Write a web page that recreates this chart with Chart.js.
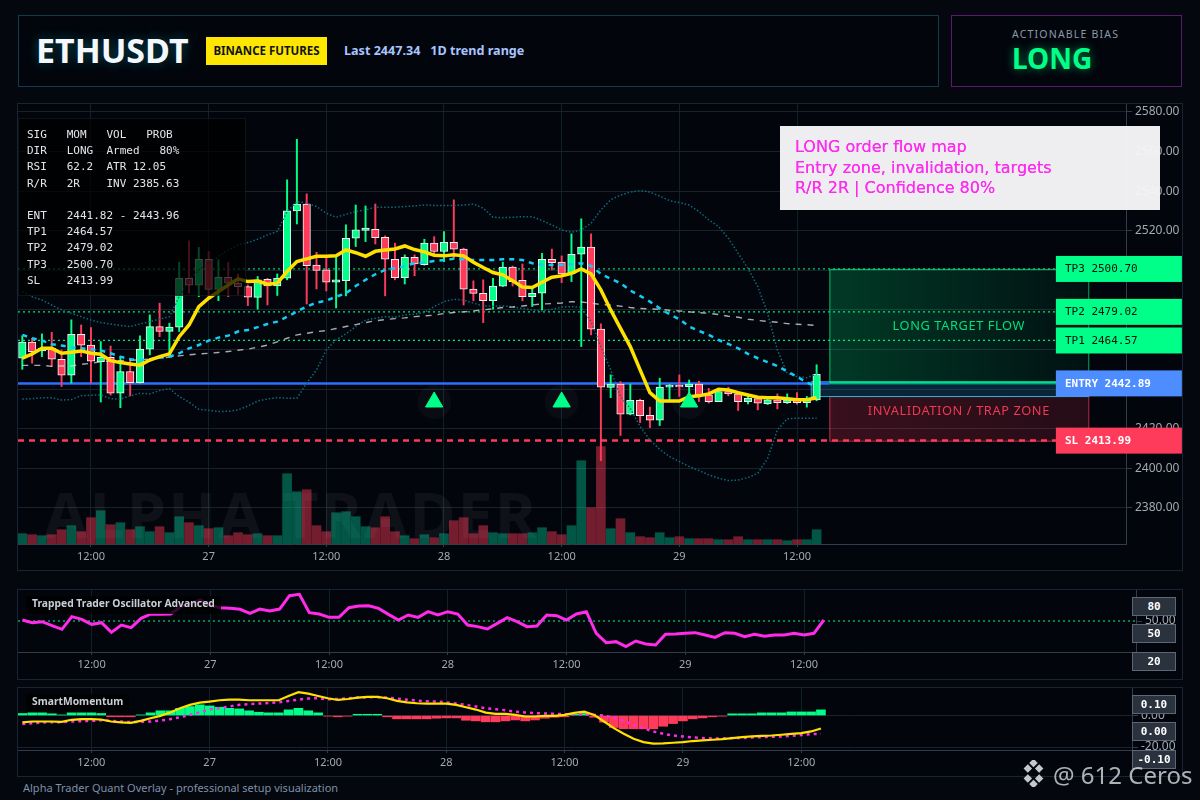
<!DOCTYPE html>
<html>
<head>
<meta charset="utf-8">
<title>ETHUSDT</title>
<script src="https://cdn.jsdelivr.net/npm/chart.js@4/dist/chart.umd.min.js"></script>
<style>
  * { box-sizing: border-box; }
  html, body { margin: 0; padding: 0; background: #05080f; }
  #page { position: relative; width: 1200px; height: 800px; overflow: hidden; background: #04070d; font-family: "Noto Sans", sans-serif; }
  .box { position: absolute; background: #02050c; }
  canvas { position: absolute; }
  .abs { position: absolute; white-space: pre; }
  .badge { position: absolute; left: 1132px; width: 44px; height: 19px; background: #2a323e; border: 1px solid #5c6674; color: #fff; font: bold 11px "DejaVu Sans Mono", monospace; text-align: center; line-height: 17px; }
  .paneTitle { position: absolute; left: 26px; padding: 0 6px; height: 18px; line-height: 18px; background: rgba(0,0,0,.8); color: #c9ced6; font: bold 10.3px "Noto Sans", sans-serif; white-space: pre; }
</style>
</head>
<body>
<div id="page">
  <div class="box" style="left:18px;top:15px;width:921px;height:72px;border:1px solid #0f3c4a"></div>
  <div class="box" style="left:951px;top:15px;width:231px;height:72px;border:1px solid #5a1a70"></div>
  <div class="abs" style="left:36px;top:27px;font:bold 34px 'Noto Sans';color:#f4f7fb;text-shadow:0 0 12px rgba(0,200,220,.35)">ETHUSDT</div>
  <div class="abs" style="left:206px;top:37px;width:121px;height:28px;background:#ffe600;color:#10131a;font:bold 11.5px 'Noto Sans';text-align:center;line-height:28px">BINANCE FUTURES</div>
  <div class="abs" style="left:344px;top:42px;font:bold 12.6px 'Noto Sans';color:#a8c4ff">Last 2447.34   1D trend range</div>
  <div class="abs" style="left:1012px;top:27px;font:10.5px 'Noto Sans';letter-spacing:1.2px;color:#8a99a8">ACTIONABLE BIAS</div>
  <div class="abs" style="left:1012px;top:39px;font:bold 28px 'Noto Sans';color:#00ff88;text-shadow:0 0 10px rgba(0,255,136,.5)">LONG</div>

  <div class="box" style="left:17px;top:103px;width:1166px;height:468px;border:1px solid #182433"></div>
  <div class="box" style="left:17px;top:589px;width:1166px;height:91px;border:1px solid #182433"></div>
  <div class="box" style="left:17px;top:687px;width:1166px;height:90px;border:1px solid #182433"></div>

  <canvas id="mainChart" width="1165" height="467" style="left:17px;top:103px"></canvas>
  <canvas id="oscChart" width="1165" height="90" style="left:17px;top:589px"></canvas>
  <canvas id="momChart" width="1165" height="89" style="left:17px;top:687px"></canvas>

  <pre class="abs" style="margin:0;left:18px;top:118px;width:228px;height:178px;padding:8px 8px;background:rgba(0,0,0,.72);border:1px solid rgba(60,70,80,.25);color:#e2e6ea;font:11px/16.2px 'DejaVu Sans Mono',monospace">SIG   MOM   VOL   PROB
DIR   LONG  Armed   80%
RSI   62.2  ATR 12.05
R/R   2R    INV 2385.63

ENT   2441.82 - 2443.96
TP1   2464.57
TP2   2479.02
TP3   2500.70
SL    2413.99</pre>

  <div class="abs" style="left:780px;top:126px;width:380px;height:84px;padding:11px 15px;background:rgba(246,246,248,.97);color:#ff2bf0;font:16px/20.5px 'DejaVu Sans';text-shadow:0 0 .5px #ff2bf0">LONG order flow map
Entry zone, invalidation, targets
R/R 2R | Confidence 80%</div>

  <div class="paneTitle" style="top:596px">Trapped Trader Oscillator Advanced</div>
  <div class="paneTitle" style="top:694px">SmartMomentum</div>
  <div class="badge" style="top:597px">80</div>
  <div class="badge" style="top:624px">50</div>
  <div class="badge" style="top:652px">20</div>
  <div class="badge" style="top:695px">0.10</div>
  <div class="badge" style="top:722px">0.00</div>
  <div class="badge" style="top:750px">-0.10</div>

  <div class="abs" style="left:23px;top:780px;font:11px 'Noto Sans';color:#7d90a8">Alpha Trader Quant Overlay - professional setup visualization</div>

  <svg class="abs" style="left:1020px;top:760px" width="27" height="27" viewBox="0 0 27 27">
    <g fill="#c4c8cc" transform="rotate(45 13.5 13.5)">
      <rect x="3" y="3" width="6" height="6"/><rect x="11" y="3" width="6" height="6"/>
      <rect x="3" y="11" width="6" height="6"/><rect x="18" y="18" width="6" height="6"/>
      <rect x="18" y="10" width="6" height="6"/><rect x="10" y="18" width="6" height="6"/>
    </g>
  </svg>
  <div class="abs" style="left:1053px;top:758px;font:24px 'Noto Sans';color:rgba(205,208,212,.85)">@ 612 Ceros</div>
</div>

<script>
// one candle per hour, index 0 = 26th 05:00
const opens = [
  2455.6,2463.7,2459.3,2460.6,2455.1,2447.0,2467.7,2462.2,2453.9,2456.1,
  2437.9,2448.9,2443.3,2460.2,2471.6,2469.2,2471.3,2496.0,2492.5,2505.6,
  2490.4,2496.5,2493.5,2491.8,2486.3,2495.5,2492.1,2496.0,2530.0,2533.5,
  2502.7,2500.2,2494.0,2494.8,2516.2,2520.1,2520.7,2516.7,2505.6,2496.3,
  2506.6,2502.9,2513.7,2509.5,2514.2,2510.7,2490.5,2488.4,2484.7,2492.0,
  2501.6,2495.0,2486.7,2488.4,2505.6,2504.1,2498.2,2508.1,2511.7,2470.3,
  2440.8,2442.5,2427.3,2434.4,2426.8,2424.3,2441.0,2442.0,2441.3,2442.6,
  2437.1,2433.7,2438.8,2437.6,2433.7,2435.2,2432.7,2434.6,2433.2,2434.6,
  2433.2,2434.6];
const closes = [
  2463.7,2458.9,2460.6,2455.1,2447.0,2467.7,2462.2,2454.1,2456.1,2437.9,
  2448.9,2443.3,2460.2,2471.6,2469.1,2471.3,2496.0,2492.5,2505.6,2490.4,
  2496.5,2493.5,2491.8,2486.4,2495.2,2492.1,2496.0,2530.0,2533.4,2502.4,
  2499.9,2494.0,2495.2,2516.2,2520.4,2521.3,2516.5,2505.6,2496.3,2506.6,
  2503.2,2513.7,2509.5,2514.2,2510.7,2490.5,2488.3,2484.7,2492.0,2501.6,
  2494.3,2486.7,2488.4,2505.6,2503.9,2498.2,2508.1,2511.7,2470.3,2441.0,
  2442.5,2427.3,2434.4,2426.6,2424.3,2441.0,2442.0,2441.1,2442.6,2437.1,
  2433.7,2438.8,2437.6,2433.7,2435.4,2432.9,2434.6,2433.2,2434.6,2433.2,
  2435.4,2447.5];
const highs = [
  2466.9,2465.7,2467.9,2468.7,2459.8,2475.0,2472.4,2471.1,2464.0,2461.8,
  2456.4,2455.6,2466.9,2477.5,2483.4,2473.3,2504.1,2514.9,2511.6,2509.5,
  2505.3,2504.1,2498.2,2492.6,2496.9,2496.0,2498.2,2545.7,2566.2,2538.6,
  2509.1,2507.0,2507.3,2523.0,2533.0,2532.5,2533.5,2517.4,2513.7,2507.8,
  2507.8,2515.7,2517.0,2519.6,2535.6,2511.2,2494.7,2495.2,2496.0,2504.1,
  2502.2,2503.2,2491.0,2508.6,2510.7,2507.3,2518.4,2526.0,2518.4,2473.0,
  2447.2,2443.8,2442.6,2434.9,2430.9,2445.5,2442.5,2447.2,2444.6,2444.0,
  2440.4,2439.6,2441.0,2438.8,2436.3,2436.3,2435.0,2437.6,2437.6,2438.3,
  2436.3,2452.3];
const lows = [
  2450.0,2453.1,2456.4,2451.4,2441.3,2443.0,2456.4,2443.0,2433.5,2437.0,
  2430.6,2436.6,2443.0,2457.3,2466.5,2456.4,2469.1,2488.4,2486.7,2486.7,
  2484.7,2486.7,2487.6,2482.2,2480.4,2482.5,2487.3,2495.2,2523.4,2483.0,
  2490.6,2489.6,2481.0,2487.1,2512.0,2514.5,2513.3,2487.1,2495.2,2493.1,
  2497.2,2502.6,2507.8,2504.4,2506.1,2482.5,2484.6,2473.6,2480.4,2491.8,
  2492.1,2484.6,2481.7,2480.0,2500.2,2493.8,2494.3,2461.5,2467.4,2403.9,
  2435.7,2416.6,2427.0,2423.1,2420.6,2421.6,2434.6,2436.3,2434.6,2433.7,
  2432.9,2433.7,2436.6,2429.2,2432.5,2429.5,2432.2,2430.0,2432.7,2432.4,
  2430.9,2434.1];
const volumes = [
  10.3,9.3,8.3,9.3,14.3,18.3,12.3,26.3,33.3,19.3,
  21.3,14.3,17.3,12.3,17.3,11.3,27.3,21.3,18.3,15.3,
  16.3,8.3,11.3,9.3,10.3,8.3,8.3,70.3,52.3,54.3,
  18.3,12.3,31.3,32.3,27.3,17.3,16.3,27.3,12.3,8.3,
  5.3,9.3,6.3,10.3,23.3,26.3,10.3,18.3,11.3,10.3,
  10.3,10.3,11.3,16.3,12.3,9.3,18.3,83.3,36.3,97.3,
  15.3,25.3,11.3,7.3,6.3,11.3,6.3,7.3,5.3,5.3,
  5.3,4.3,4.3,7.3,4.3,4.3,4.3,4.3,3.3,4.3,
  4.3,14.3];
const emaFast = [
  2455.6,2457.8,2460.6,2460.6,2458.1,2458.6,2459.3,2458.1,2457.6,2454.4,
  2453.4,2452.7,2452.1,2454.7,2456.4,2457.8,2466.5,2472.4,2481.7,2485.9,
  2489.3,2492.6,2495.7,2494.3,2494.6,2493,2493.5,2499.4,2504.4,2505.8,
  2507.1,2507.1,2507.4,2510.3,2508.9,2507.1,2509.6,2510.3,2510.8,2512.3,
  2510.5,2509.3,2507.6,2507.3,2507.9,2507.3,2504.1,2501.4,2498.9,2497.7,
  2494.7,2491.6,2491.3,2494,2496.5,2497.2,2498.5,2500.7,2498.2,2490.1,
  2480,2470.7,2461.5,2449.7,2438.2,2434,2434,2434,2436.2,2436.7,
  2437.6,2439.9,2439.6,2438.2,2437,2435.9,2435.6,2435.6,2435.1,2434.6,
  2434.6,2435.6];
const emaSlow = [
  2467.4,2465.7,2464.5,2462.7,2462,2461.1,2460.6,2460.1,2459.5,2458.1,
  2456.4,2455.1,2454.7,2455.1,2455.9,2456.4,2458.1,2460.6,2462.3,2464.5,
  2466,2467,2469.1,2469.9,2471.3,2472.9,2474.1,2476.5,2479.2,2481.7,
  2483.7,2484.7,2486.7,2488.4,2492.1,2495.2,2498,2500.2,2501,2502.2,
  2503.6,2503.9,2504.7,2505.2,2505.8,2505.6,2505.2,2505.2,2505.2,2505.6,
  2505.6,2505.2,2503.6,2502.7,2502.7,2502.7,2503,2503.6,2502.2,2498.2,
  2495.7,2493.5,2489.8,2487.1,2484.2,2480.8,2477.8,2475.3,2471.6,2469.4,
  2467.4,2464.8,2462.8,2460.6,2457.8,2455.6,2453.6,2451.7,2448.9,2446.3,
  2443.3,2441.3];
const maLong = [
  2452,2452,2452,2451.5,2451.7,2451.7,2452.5,2453,2453.9,2454.2,
  2454.4,2454.6,2454.8,2455.2,2455.6,2456.2,2456.8,2457.3,2457.8,2458.1,
  2458.5,2459,2459.6,2460.2,2461.2,2462.2,2463.9,2465.7,2467.4,2468.2,
  2469,2469.6,2470.6,2471.6,2472.6,2473.6,2474.5,2475.1,2475.6,2476,
  2476.6,2477,2477.3,2478.2,2478.7,2479,2479.5,2480,2480.6,2481.2,
  2481.5,2482,2482.5,2483,2483.2,2483.5,2484.2,2484,2483.4,2482.7,
  2482.5,2481.9,2481.2,2480.7,2480.5,2480.3,2479.8,2479.5,2479,2478.6,
  2478.3,2477.7,2476.8,2476.3,2475.3,2474.7,2474.2,2473.8,2473.1,2472.8,
  2472.5,2472.2];
const bandUpper = [
  2489.3,2486.7,2485,2482.5,2480,2478.3,2476.6,2474.9,2473.6,2472.9,
  2472.1,2471.6,2472.9,2474.1,2475.3,2476.6,2486.7,2495.2,2500.2,2503.6,
  2506.9,2510.3,2512.8,2514,2515.7,2517.9,2519.6,2529.7,2534.7,2533.9,
  2532.2,2528.8,2526.8,2528.3,2529.7,2530.5,2531.9,2531.9,2531.9,2532.2,
  2532.5,2533,2532.8,2532.7,2532.7,2533,2533.5,2531.4,2526.8,2526.6,
  2526.8,2527.1,2527.1,2525.1,2522.9,2520.4,2519.2,2520.4,2523.8,2530.5,
  2535.6,2538,2539.5,2540.3,2539.5,2537.5,2535.2,2534.2,2533,2529.7,
  2525.5,2522.1,2516.2,2508.6,2501,2491.8,2478.3,2459.8,2448,2446.3,
  2445.8,2447.7];
const bandLower = [
  2435,2435.2,2435.6,2435.6,2434.5,2434.7,2436.7,2436.9,2437.1,2435.2,
  2434.9,2436.6,2437.9,2437.6,2439.3,2440.3,2436.2,2433.4,2429.8,2429.3,
  2428.7,2428.8,2429.5,2431.5,2434,2435,2435.7,2435.4,2435.4,2443,
  2449.7,2459.8,2464.9,2467.9,2471.6,2474.9,2475.8,2476.6,2476.3,2477.5,
  2477.8,2478.7,2481.7,2484.2,2485.4,2485,2483.4,2482,2481.9,2482,
  2481.5,2480.8,2480,2479.5,2480.3,2481.4,2481.7,2481.3,2474.1,2461.5,
  2449.7,2436.2,2430.3,2421.1,2414.3,2409.6,2405.9,2403.4,2400.9,2398.9,
  2396.7,2395,2393.8,2394.1,2395.3,2397.5,2405,2419.4,2425,2425.3,
  2425.3,2425.3];
const oscValues = [
  51.6,47.3,48.9,42.5,36.6,57,52.7,44.6,47.3,31.7,
  43.5,39.2,54.3,61.3,60.7,61.3,73.1,78.5,83.9,74.7,
  71.5,70.4,68.8,62.4,69.3,66.1,69.3,90.9,93,63.4,
  61.3,55.9,55.9,71.5,74.2,74.7,70.4,60.7,51.6,59.7,
  55.9,65,59.7,65,61.3,43.5,40.9,37.1,46.2,55.4,
  48.9,40.9,42,59.7,58.6,51.6,61.3,65,30.1,15,
  16.7,8.6,17.7,12.9,11.3,28.5,29,30.1,31.2,27.4,
  23.6,31.2,30.1,24.7,28.5,25.3,27.4,27.4,30.1,27.4,
  30.1,51.6];
const momFast = [
  -4.4,-3.8,-3.8,-3.8,-4,-2.7,-2.3,-2.3,-2.5,-3.8,
  -4.4,-4.6,-3.4,-1.7,-0.2,1.9,4.6,6.8,8.2,8.9,
  9.7,10.1,10.1,9.7,9.7,9.7,9.7,12.4,14.8,13.9,
  12.4,11,9.9,10.5,11.4,11.8,11.8,11,9.3,8.4,
  7.8,7.6,7.6,7.6,6.8,5.3,3.8,1.9,1.1,1.1,
  0.4,-0.6,-0.6,-0.2,-0.2,0.4,1.7,2.5,0.4,-3.8,
  -8,-11.6,-14.8,-16.9,-17.9,-17.7,-17.3,-16.9,-16.2,-15.8,
  -15.4,-15,-14.3,-13.7,-13.3,-12.9,-12.7,-12.2,-11.6,-11.2,
  -10.1,-8.2];
const momSignal = [
  -5.3,-4.9,-4.4,-4.2,-4.2,-3.8,-3.6,-3.4,-3,-3.4,
  -3.8,-4.2,-4,-3.8,-3.2,-2.3,-1.1,0.4,2.1,4,
  4.6,5.7,6.8,7.2,7.6,8,8.4,9.3,10.1,10.8,
  11,10.3,10.5,11,11.4,11.6,11.8,11.4,10.8,10.1,
  9.5,9.1,8.9,8.4,7.6,6.8,5.7,4.6,4,3.4,
  2.5,1.9,1.5,1.3,1.1,0.8,0.8,0.8,0.4,0,
  -1.5,-3.4,-5.9,-8.2,-10.1,-11.6,-12.7,-13.3,-13.9,-14.3,
  -14.6,-14.6,-14.3,-14.3,-13.9,-13.7,-13.5,-13.3,-12.9,-12.4,
  -11.8,-11.6];
const momHist = [
  1.3,1.7,1.7,1.1,0.4,1.7,1.7,1.7,1.3,-0.8,
  -0.8,-0.8,0.4,1.7,3,3,4.6,5.7,6.8,6.1,
  5.3,4.6,4.2,3,2.1,1.7,1.7,3.6,4.6,3,
  1.7,-0.4,-0.8,-0.4,0.8,0.8,0.8,-0.8,-2.1,-2.1,
  -2.1,-2.1,-1.7,-1.5,-1.5,-3,-3.4,-4,-4,-3.4,
  -2.8,-3.4,-2.8,-1.7,-1.1,-0.8,0.8,1.3,-1.1,-4.2,
  -7.6,-8.4,-8.4,-8.4,-8.4,-6.8,-5.1,-3.4,-2.1,-1.5,
  -0.8,-0.4,1.1,1.1,1.1,1.7,1.7,1.7,2.3,2.3,
  2.3,3.6];

const priceTicks = [2580,2560,2540,2520,2500,2480,2460,2440,2420,2400,2380];
const timeTickIdx = [7,19,31,43,55,67,79];
const timeTickLabels = ['12:00','27','12:00','28','12:00','29','12:00'];
const signalIdx = [42,55,68];
const signalPrice = 2433.5;
const tp1 = 2464.57, tp2 = 2479.02, tp3 = 2500.70, entry = 2442.89, stop = 2413.99;
const entryTop = 2443.96, entryBottom = 2436.5;

const GREEN = '#00ff88', RED = '#ff3b5c', YELLOW = '#ffe100', MAGENTA = '#ff2be8';
const GRID = '#10202a', AXIS = '#323c4a', TICK = '#a3a9b3';
const xMin = -0.44, xMax = 112.55;
const zoneLeft = 82.3, zoneRight = 108.7, tagLeft = 105.4, entryLeft = 80.4;

Chart.defaults.font.family = '"Noto Sans", sans-serif';
Chart.defaults.font.size = 11;
Chart.defaults.animation = false;

const pts = arr => arr.map((v, i) => ({ x: i, y: v }));
const isUp = i => closes[i] >= opens[i];

// labels must not push the plot area in, the panes have fixed sizes
function noPadding(s) {
  s.paddingTop = s.paddingBottom = s.paddingLeft = s.paddingRight = 0;
}

function xAxis() {
  return {
    type: 'linear', min: xMin, max: xMax, offset: false,
    afterBuildTicks: s => { s.ticks = timeTickIdx.map(v => ({ value: v })); },
    afterFit: s => { s.height = s.chart.height - s.chart.options.plotH; noPadding(s); },
    ticks: {
      autoSkip: false, maxRotation: 0, color: TICK, padding: 3,
      font: { size: 11 },
      callback: v => timeTickLabels[timeTickIdx.indexOf(v)]
    },
    grid: { color: GRID, tickLength: 3, tickColor: AXIS, offset: false },
    border: { color: AXIS }
  };
}

function yAxis(width, min, max, values, fmt, gridColor) {
  return {
    position: 'right', min: min, max: max,
    afterBuildTicks: s => { s.ticks = values.map(v => ({ value: v })); },
    afterFit: s => { s.width = width; noPadding(s); },
    ticks: { color: TICK, padding: 3, font: { size: 12 }, callback: fmt },
    grid: { color: gridColor, tickLength: 6, tickColor: AXIS },
    border: { color: AXIS }
  };
}

function lineSet(values, color, width, dash, order) {
  return {
    type: 'line', data: pts(values), borderColor: color, borderWidth: width,
    borderDash: dash, pointRadius: 0, tension: 0, order: order
  };
}

function levelSet(price, fromX, toX, color, width, dash) {
  return {
    type: 'line', data: [{ x: fromX, y: price }, { x: toX, y: price }],
    borderColor: color, borderWidth: width, borderDash: dash, pointRadius: 0, order: 8
  };
}

// watermark and the coloured zones sit under the candles
const underlay = {
  id: 'underlay',
  beforeDatasetsDraw(chart) {
    const { ctx, scales: { x, y } } = chart;
    ctx.save();
    ctx.font = 'bold 63px "Noto Sans"';
    ctx.letterSpacing = '2px';
    ctx.fillStyle = 'rgba(255,255,255,.05)';
    ctx.textBaseline = 'alphabetic';
    ctx.fillText('ALPHA TRADER', 27, 435);
    ctx.letterSpacing = '0px';

    const zl = x.getPixelForValue(zoneLeft), zr = x.getPixelForValue(zoneRight);
    const yTp3 = y.getPixelForValue(tp3), yEntry = y.getPixelForValue(entry);
    const yBot = y.getPixelForValue(entryBottom), yStop = y.getPixelForValue(stop);

    let g = ctx.createLinearGradient(zl, 0, zr, 0);
    g.addColorStop(0, 'rgba(0,255,136,.21)');
    g.addColorStop(1, 'rgba(0,255,136,.05)');
    ctx.fillStyle = g;
    ctx.fillRect(zl, yTp3, zr - zl, yEntry - yTp3);
    ctx.strokeStyle = 'rgba(0,255,136,.65)';
    ctx.lineWidth = 1;
    ctx.strokeRect(zl + .5, yTp3 + .5, zr - zl, yEntry - yTp3);

    g = ctx.createLinearGradient(zl, 0, zr, 0);
    g.addColorStop(0, 'rgba(255,59,92,.22)');
    g.addColorStop(1, 'rgba(255,59,92,.14)');
    ctx.fillStyle = g;
    ctx.fillRect(zl, yBot, zr - zl, yStop - yBot);
    ctx.strokeStyle = 'rgba(255,59,92,.7)';
    ctx.strokeRect(zl + .5, yBot + .5, zr - zl, yStop - yBot);

    const el = x.getPixelForValue(entryLeft), eTop = y.getPixelForValue(entryTop);
    ctx.fillStyle = 'rgba(40,170,240,.2)';
    ctx.fillRect(el, eTop, zr - el, yBot - eTop);
    ctx.strokeStyle = 'rgba(30,200,240,.85)';
    ctx.strokeRect(el + .5, eTop + .5, zr - el, yBot - eTop);

    ctx.strokeStyle = '#00e08a';
    ctx.lineWidth = 2;
    ctx.beginPath();
    ctx.moveTo(zl, yEntry - 1);
    ctx.lineTo(zr, yEntry - 1);
    ctx.stroke();
    ctx.restore();
  }
};

// zone captions and the price tags on the right
const tags = {
  id: 'tags',
  afterDatasetsDraw(chart) {
    const { ctx, scales: { x, y } } = chart;
    const mid = x.getPixelForValue((zoneLeft + zoneRight) / 2);
    const tl = x.getPixelForValue(tagLeft);
    ctx.save();
    ctx.textBaseline = 'middle';
    ctx.textAlign = 'center';
    ctx.font = '12.8px "Noto Sans"';
    ctx.letterSpacing = '0.6px';
    ctx.fillStyle = '#00e07c';
    ctx.fillText('LONG TARGET FLOW', mid, y.getPixelForValue(2471.6));
    ctx.fillStyle = '#ee3a55';
    ctx.fillText('INVALIDATION / TRAP ZONE', mid, y.getPixelForValue(2428.9));
    ctx.letterSpacing = '0px';
    ctx.textAlign = 'left';
    const rows = [
      ['TP3 2500.70', tp3, GREEN, '#02100a', ''],
      ['TP2 2479.02', tp2, GREEN, '#02100a', ''],
      ['TP1 2464.57', tp1, GREEN, '#02100a', ''],
      ['ENTRY 2442.89', entry, '#4d8dff', '#ffffff', 'bold '],
      ['SL 2413.99', stop, RED, '#ffffff', 'bold ']
    ];
    rows.forEach(r => {
      const py = y.getPixelForValue(r[1]);
      ctx.fillStyle = r[2];
      ctx.fillRect(tl, py - 13, 126, 26);
      ctx.fillStyle = r[3];
      ctx.font = r[4] + '11px "DejaVu Sans Mono"';
      ctx.fillText(r[0], tl + 9, py + 0.5);
    });
    ctx.restore();
  }
};

new Chart(document.getElementById('mainChart'), {
  type: 'bar',
  data: {
    datasets: [
      { type: 'scatter', data: signalIdx.map(i => ({ x: i, y: signalPrice })), pointStyle: 'triangle', pointRadius: 10, pointBackgroundColor: GREEN, pointBorderColor: GREEN, order: 0 },
      { type: 'scatter', data: signalIdx.map(i => ({ x: i, y: signalPrice })), pointStyle: 'circle', pointRadius: 17, pointBackgroundColor: 'rgba(255,255,255,.03)', pointBorderWidth: 0, order: 9 },
      lineSet(emaFast, YELLOW, 3.5, [], 1),
      lineSet(emaSlow, '#12cdf5', 2.5, [5, 5], 2),
      lineSet(maLong, 'rgba(225,225,225,.75)', 1.4, [6, 6], 3),
      lineSet(bandUpper, '#0f6a7c', 1.5, [1.5, 2], 4),
      lineSet(bandLower, '#0f6a7c', 1.5, [1.5, 2], 4),
      levelSet(tp3, xMin, tagLeft, 'rgba(0,255,136,.8)', 1.2, [2, 3]),
      levelSet(tp2, xMin, tagLeft, 'rgba(0,255,136,.9)', 1.2, [2, 3]),
      levelSet(tp1, xMin, tagLeft, 'rgba(0,255,136,.9)', 1.2, [2, 3]),
      levelSet(entry, xMin, zoneLeft, '#2a6fff', 2.5, []),
      levelSet(stop, xMin, tagLeft, RED, 2.5, [6, 5]),
      {
        data: pts(closes).map((p, i) => ({ x: i, y: [opens[i], closes[i]] })),
        backgroundColor: closes.map((c, i) => isUp(i) ? GREEN : RED),
        borderColor: '#f4f4f4', borderWidth: 1, borderSkipped: false, barThickness: 7.5, order: 6
      },
      {
        data: pts(closes).map((p, i) => ({ x: i, y: [lows[i], highs[i]] })),
        backgroundColor: closes.map((c, i) => isUp(i) ? GREEN : RED),
        barThickness: 1.3, order: 7
      },
      {
        yAxisID: 'yVol', data: pts(volumes),
        backgroundColor: closes.map((c, i) => isUp(i) ? 'rgba(0,200,150,.42)' : 'rgba(255,60,90,.45)'),
        barThickness: 9, order: 10
      }
    ]
  },
  options: {
    responsive: false,
    plotH: 441,
    layout: { autoPadding: false, padding: { top: 1, left: 1 } },
    events: [],
    plugins: { legend: { display: false }, tooltip: { enabled: false } },
    datasets: { bar: { grouped: false } },
    scales: {
      x: xAxis(),
      y: yAxis(56, 2361.78, 2584, priceTicks, v => v.toFixed(2), '#1a2129'),
      yVol: { display: false, min: 0, max: 440 }
    }
  },
  plugins: [underlay, tags]
});

new Chart(document.getElementById('oscChart'), {
  type: 'line',
  data: {
    datasets: [
      lineSet(oscValues, MAGENTA, 3, [], 1),
      { data: [{ x: xMin, y: 50 }, { x: xMax, y: 50 }], borderColor: GREEN, borderWidth: 1.2, borderDash: [2, 3], pointRadius: 0, order: 2 }
    ]
  },
  options: {
    responsive: false,
    plotH: 63,
    layout: { autoPadding: false, padding: { top: 1, left: 1 } },
    events: [],
    plugins: { legend: { display: false }, tooltip: { enabled: false } },
    scales: {
      x: xAxis(),
      y: yAxis(46, 0, 100, [50], v => v.toFixed(2), 'transparent')
    }
  }
});

new Chart(document.getElementById('momChart'), {
  type: 'bar',
  data: {
    datasets: [
      lineSet(momFast, YELLOW, 2.2, [], 1),
      lineSet(momSignal, MAGENTA, 2.5, [3, 4], 2),
      { data: pts(momHist), backgroundColor: momHist.map(v => v >= 0 ? GREEN : RED), barThickness: 9, order: 3 }
    ]
  },
  options: {
    responsive: false,
    plotH: 63,
    layout: { autoPadding: false, padding: { top: 1, left: 1 } },
    events: [],
    plugins: { legend: { display: false }, tooltip: { enabled: false } },
    scales: {
      x: xAxis(),
      y: yAxis(50, -21.9, 17.5, [0, -20], v => v.toFixed(2), '#1a2129')
    }
  }
});
</script>
</body>
</html>
